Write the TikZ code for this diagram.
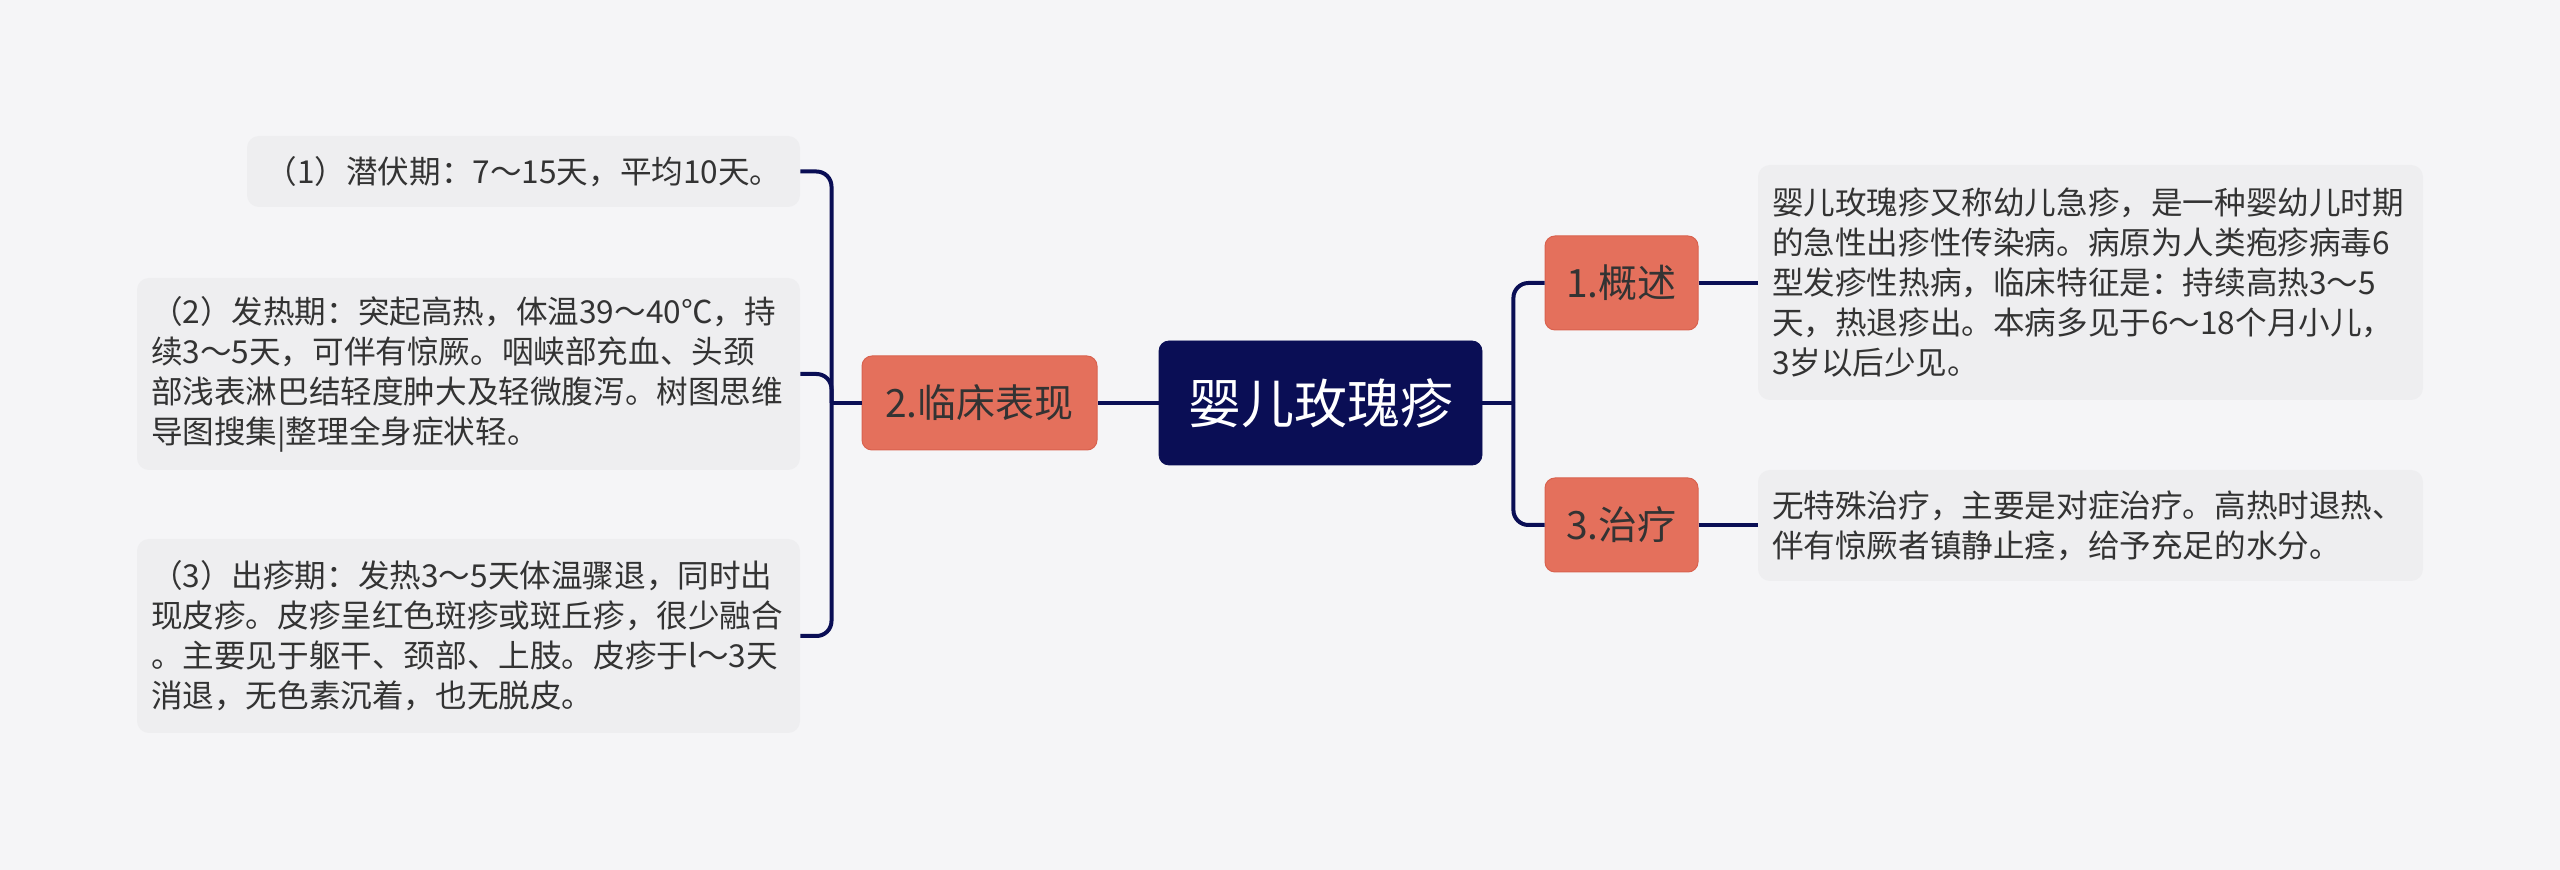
\documentclass[tikz,border=0pt]{standalone}
\usepackage{fontspec}
\setmainfont{Noto Sans CJK SC}
\definecolor{bg}{HTML}{F5F5F7}
\definecolor{navy}{HTML}{0A0E55}
\definecolor{orng}{HTML}{E4705C}
\definecolor{orngd}{HTML}{D9624F}
\definecolor{leafc}{HTML}{EEEEF0}
\definecolor{txt}{HTML}{333333}
\begin{document}
\begin{tikzpicture}[x=0.5pt,y=-0.5pt,
  rootbox/.style={fill=navy, draw=navy, rounded corners=5pt, text=white,
    font=\fontsize{26.5}{30}\selectfont, minimum width=161.5pt, minimum height=62pt, inner sep=0pt},
  branchbox/.style={fill=orng, draw=orngd, line width=0.5pt, rounded corners=5pt, text=txt,
    font=\fontsize{19.5}{23}\selectfont, minimum height=47pt, inner sep=0pt},
  leafbox/.style={fill=leafc, rounded corners=6pt, text=txt,
    font=\fontsize{15.8}{20}\selectfont, inner xsep=7pt, inner ysep=0pt},
  conn/.style={draw=navy, line width=2pt},
  rc/.style={rounded corners=7.5pt}
]
\useasboundingbox[fill=bg] (0,0) rectangle (2560,870);

\node[rootbox] (root) at (1320.5,403) {婴儿玫瑰疹};
\node[branchbox, minimum width=117.5pt] (b2) at (979.5,403) {2.临床表现};
\node[branchbox, minimum width=76.5pt] (c1) at (1621.5,283) {1.概述};
\node[branchbox, minimum width=76.5pt] (c3) at (1621.5,525) {3.治疗};

\node[leafbox, text width=262.5pt, align=center, minimum height=35.5pt] (l1) at (523.5,171.5)
  {（1）潜伏期：7～15天，平均10天。};
\node[leafbox, text width=317.5pt, align=left, minimum height=96pt] (l2) at (468.5,374)
  {（2）发热期：突起高热，体温39～40℃，持\\续3～5天，可伴有惊厥。咽峡部充血、头颈\\部浅表淋巴结轻度肿大及轻微腹泻。树图思维\\导图搜集|整理全身症状轻。};
\node[leafbox, text width=317.5pt, align=left, minimum height=97pt] (l3) at (468.5,636)
  {（3）出疹期：发热3～5天体温骤退，同时出\\现皮疹。皮疹呈红色斑疹或斑丘疹，很少融合\\。主要见于躯干、颈部、上肢。皮疹于l～3天\\消退，无色素沉着，也无脱皮。};
\node[leafbox, text width=318.5pt, align=left, minimum height=117.5pt] (r1) at (2090.5,282.5)
  {婴儿玫瑰疹又称幼儿急疹，是一种婴幼儿时期\\的急性出疹性传染病。病原为人类疱疹病毒6\\型发疹性热病，临床特征是：持续高热3～5\\天，热退疹出。本病多见于6～18个月小儿，\\3岁以后少见。};
\node[leafbox, text width=318.5pt, align=left, minimum height=55.5pt] (r2) at (2090.5,525.5)
  {无特殊治疗，主要是对症治疗。高热时退热、\\伴有惊厥者镇静止痉，给予充足的水分。};

\coordinate (jl) at ([xshift=-15pt]b2.west);
\coordinate (jr) at ([xshift=15.5pt]root.east);

\draw[conn] (root.west) -- (b2.east);
\draw[conn] (b2.west) -- (jl);
\draw[conn, rc] (jl) |- (l1.east);
\draw[conn, rc] (jl) |- (l2.east);
\draw[conn, rc] (jl) |- (l3.east);

\draw[conn] (root.east) -- (jr);
\draw[conn, rc] (jr) |- (c1.west);
\draw[conn, rc] (jr) |- (c3.west);
\draw[conn] (c1.east) -- (c1.east -| r1.west);
\draw[conn] (c3.east) -- (c3.east -| r2.west);
\end{tikzpicture}
\end{document}
